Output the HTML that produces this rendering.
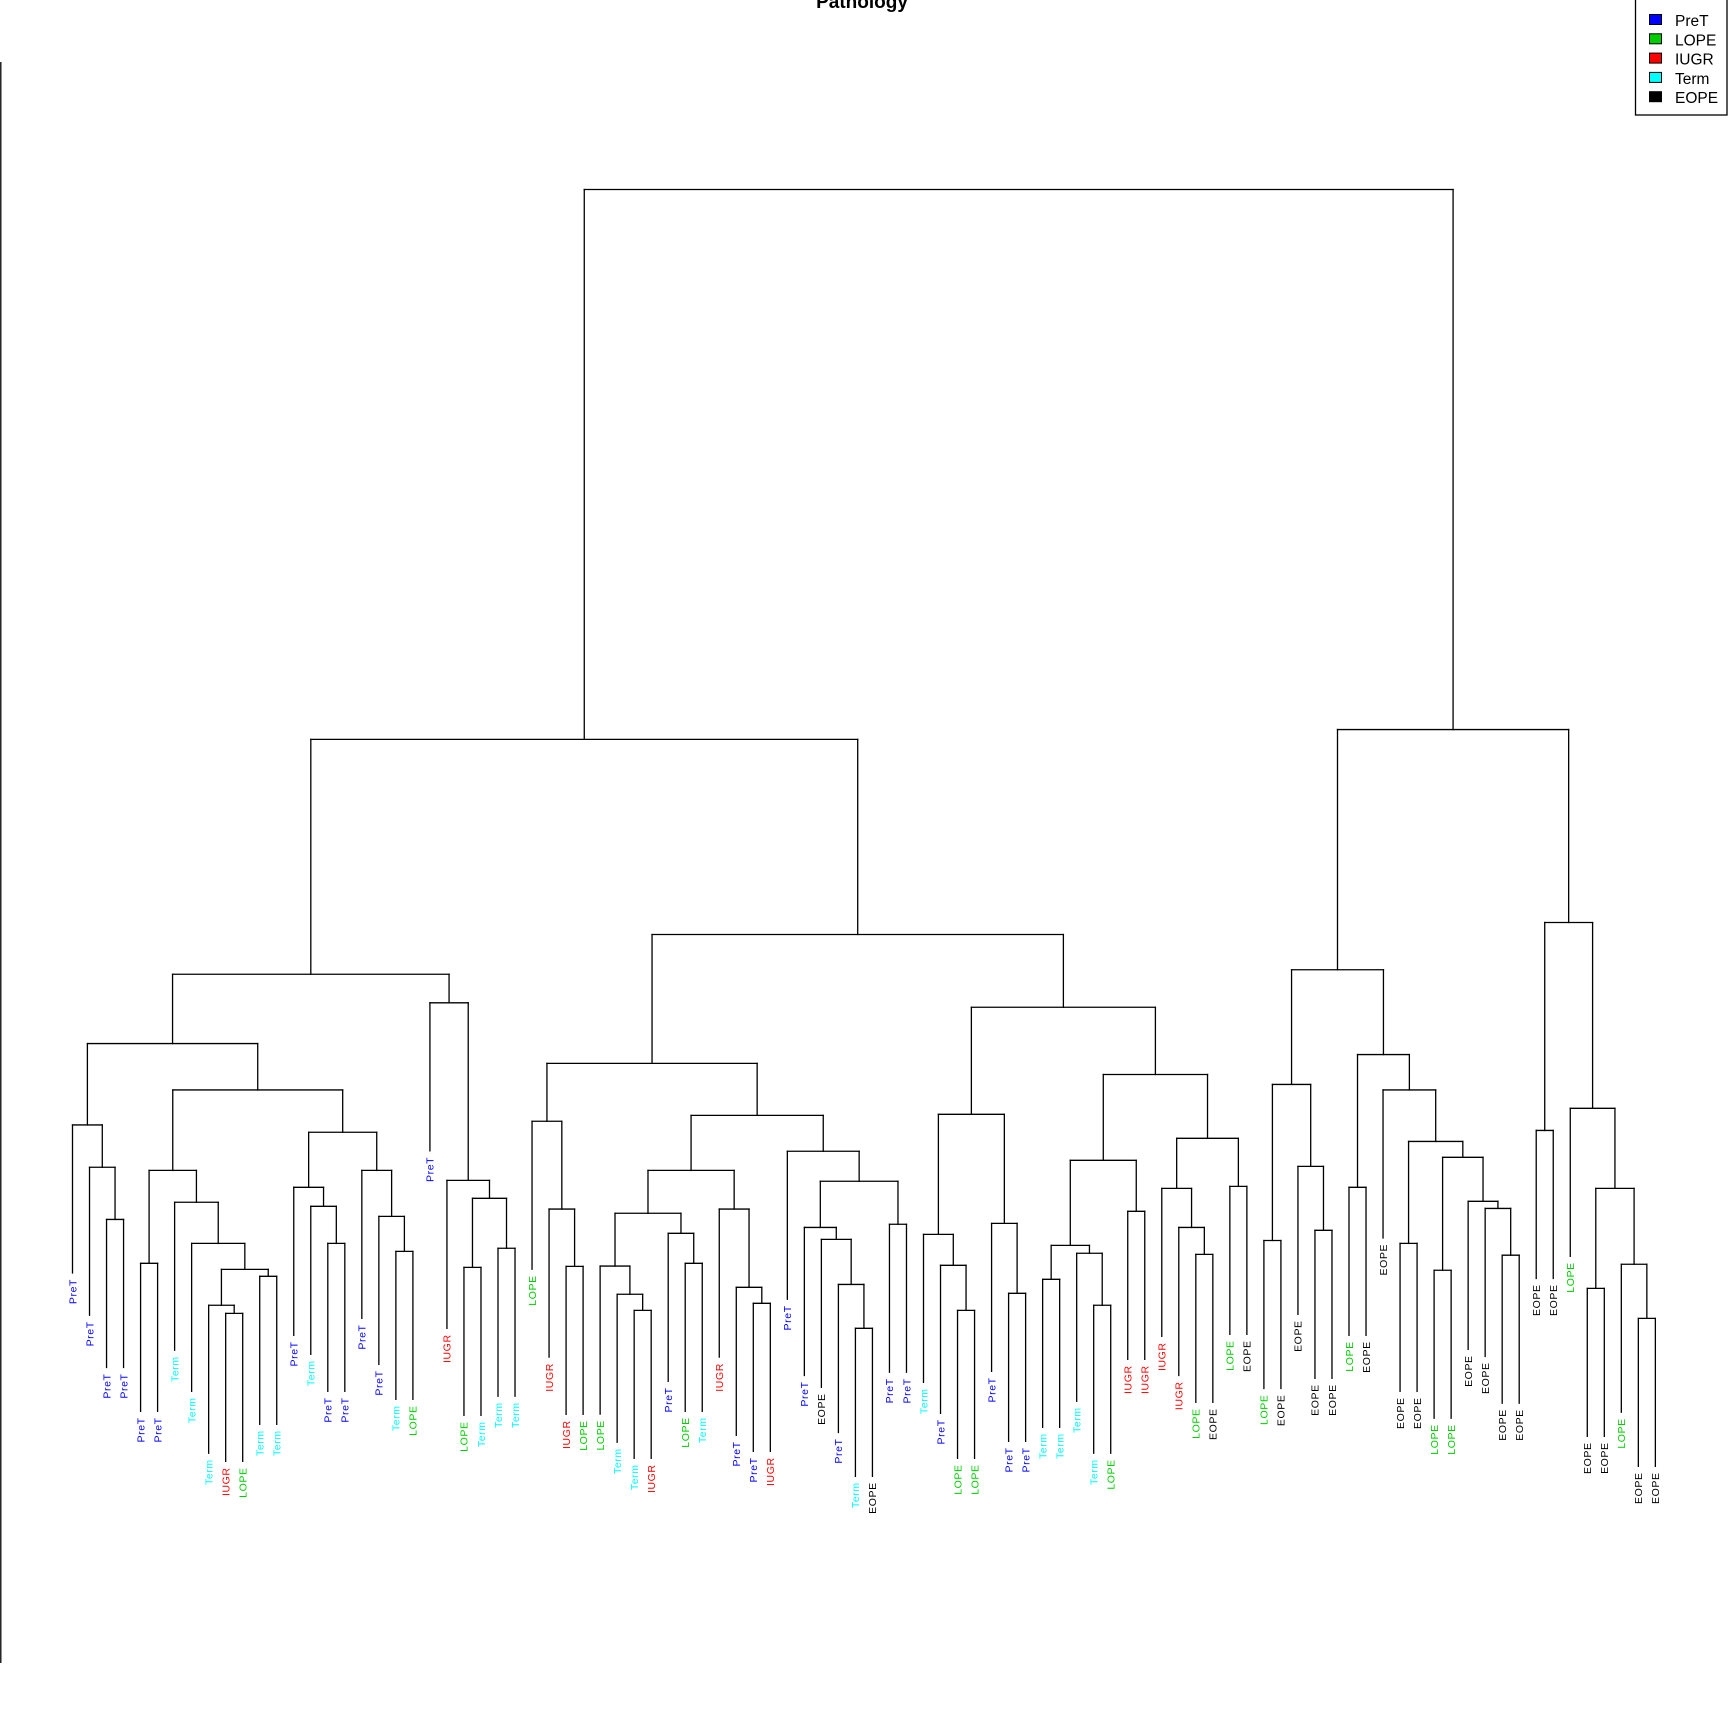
<!DOCTYPE html>
<html><head><meta charset="utf-8"><style>
html,body{margin:0;padding:0;background:#fff;}
svg{display:block;}
text{font-family:"Liberation Sans",sans-serif;}
</style></head><body>
<svg id="chart" width="1728" height="1728" viewBox="0 0 1728 1728" xmlns="http://www.w3.org/2000/svg">
<rect x="0" y="0" width="1728" height="1728" fill="#fff"/>
<text x="862" y="8" text-anchor="middle" font-size="19" font-weight="bold">Pathology</text>
<line x1="0.8" y1="62" x2="0.8" y2="1663" stroke="#000" stroke-width="1.3"/>
<g id="tree"></g>
<g>
<rect x="1635.5" y="-1" width="91.5" height="116" fill="#fff" stroke="#000" stroke-width="1.3"/>
<g id="legendItems"></g>
</g>
</svg>
<script>
const leafLabels = ["PreT","PreT","PreT","PreT","PreT","PreT","Term","Term","Term","IUGR","LOPE","Term","Term","PreT","Term","PreT","PreT","PreT","PreT","Term","LOPE","PreT","IUGR","LOPE","Term","Term","Term","LOPE","IUGR",
"IUGR","LOPE","LOPE","Term","Term","IUGR","PreT","LOPE","Term","IUGR","PreT","PreT","IUGR","PreT","PreT","EOPE","PreT","Term","EOPE","PreT","PreT","Term","PreT","LOPE","LOPE","PreT","PreT","PreT","Term","Term","Term",
"Term","LOPE","IUGR","IUGR","IUGR","IUGR","LOPE","EOPE","LOPE","EOPE","LOPE","EOPE","EOPE","EOPE","EOPE","LOPE","EOPE","EOPE","EOPE","EOPE","LOPE","LOPE","EOPE","EOPE","EOPE","EOPE","EOPE","EOPE","LOPE","EOPE","EOPE","LOPE","EOPE","EOPE"];
// merges: negative = leaf (1-based), positive = earlier merge (1-based)
const mergeLeft  = [-3,-2,-1,-5,-10,-9,-12,6,-8,-7,4,-16,-15,-14,-20,-19,-18,14,11,3,-24,-26,21,-23,-22,20,-30,-29,-28,-34,-33,-32,-37,-36,32,-41,-40,-39,35,-47,-46,-45,-44,-49,43,-43,39,29,-53,-52,-51,-56,-55,51,-58,-61,-60,55,-63,58,-67,-66,-65,-69,63,60,54,48,26,-71,-74,-73,70,-76,-79,-81,-85,-84,-83,76,75,-78,74,73,-87,-90,-93,-92,86,-89,85,84,69];
const mergeRight = [-4,1,2,-6,-11,5,-13,7,8,9,10,-17,12,13,-21,15,16,17,18,19,-25,-27,22,23,24,25,-31,27,28,-35,30,31,-38,33,34,-42,36,37,38,-48,40,41,42,-50,44,45,46,47,-54,49,50,-57,52,53,-59,-62,56,57,-64,59,-68,61,62,-70,64,65,66,67,68,-72,-75,71,72,-77,-80,-82,-86,77,78,79,80,81,82,83,-88,-91,-94,87,88,89,90,91,92];
const mergeHeights = [21.41,25.39,28.62,18.06,14.24,14.86,17.07,17.60,19.58,22.72,25.15,19.58,22.41,23.86,18.97,21.64,25.15,28.06,31.29,34.83,17.75,19.21,23.02,24.39,37.94,40.12,17.83,22.20,28.90,14.47,15.70,17.85,18.06,20.35,21.88,15.01,16.23,22.20,25.15,13.10,16.45,19.89,20.80,21.04,24.32,26.61,29.35,33.32,14.47,17.91,20.27,15.77,21.11,29.43,16.84,14.86,18.83,19.43,22.03,25.92,18.74,20.80,23.78,23.93,27.60,32.47,37.60,43.15,58.04,19.80,20.58,25.46,31.71,23.86,19.58,17.53,18.68,22.25,22.79,26.15,27.36,31.29,33.99,40.46,28.20,16.15,13.86,17.99,23.78,29.89,44.07,58.79,100.0];
const legendLabels = ["PreT","LOPE","IUGR","Term","EOPE"];
const legendColors = ["#0000FF","#00CD00","#FF0000","#00FFFF","#000000"];

const NS = "http://www.w3.org/2000/svg";
const colorOf = {PreT:"#0000FF",LOPE:"#00CD00",IUGR:"#FF0000",Term:"#00FFFF",EOPE:"#000000"};
const X0 = 72.5, DX = 17.02, Y0 = 1500, KY = 13.105, HANG = 148;
function xLeaf(i){ return X0 + i*DX; }
function yH(h){ return Y0 - h*KY; }
const tree = document.getElementById("tree");
function line(x1,y1,x2,y2,name){
  const l = document.createElementNS(NS,"line");
  l.setAttribute("x1",x1); l.setAttribute("y1",y1); l.setAttribute("x2",x2); l.setAttribute("y2",y2);
  l.setAttribute("stroke","#000"); l.setAttribute("stroke-width","1.3"); l.setAttribute("stroke-linecap","square");
  
  
  tree.appendChild(l);
}
const nodeX = [], nodeY = [];
function childPos(c){
  if (c < 0) return {x: xLeaf(-c-1), leaf: -c-1};
  return {x: nodeX[c-1], y: nodeY[c-1], leaf: null};
}
for (let m = 0; m < mergeHeights.length; m++){
  const y = yH(mergeHeights[m]);
  const a = childPos(mergeLeft[m]), b = childPos(mergeRight[m]);
  line(a.x, y, b.x, y, "merge-bar");
  [a,b].forEach(c => {
    if (c.leaf !== null){
      const yb = y + HANG;
      line(c.x, y, c.x, yb, "leaf-branch");
      const t = document.createElementNS(NS,"text");
      const lab = leafLabels[c.leaf];
      t.textContent = lab;
      t.setAttribute("x", c.x); t.setAttribute("y", yb + 6);
      t.setAttribute("transform", "rotate(-90 " + c.x + " " + (yb+6) + ")");
      t.setAttribute("text-anchor","end"); t.setAttribute("dy","0.36em");
      t.setAttribute("font-size","10.5"); t.setAttribute("letter-spacing","0.6");
      t.setAttribute("fill", colorOf[lab]);
      
      
      tree.appendChild(t);
    } else {
      line(c.x, y, c.x, c.y, "branch");
    }
  });
  nodeX[m] = (a.x + b.x)/2; nodeY[m] = y;
}
const lg = document.getElementById("legendItems");
for (let i = 0; i < legendLabels.length; i++){
  const yb = 26 + i*19.3;
  const r = document.createElementNS(NS,"rect");
  r.setAttribute("x",1649.5); r.setAttribute("y",yb-11.5); r.setAttribute("width",12); r.setAttribute("height",10);
  r.setAttribute("fill",legendColors[i]); r.setAttribute("stroke","#000"); r.setAttribute("stroke-width","1");
  
  
  lg.appendChild(r);
  const t = document.createElementNS(NS,"text");
  t.setAttribute("x",1675); t.setAttribute("y",yb); t.setAttribute("font-size","15.5");
  t.textContent = legendLabels[i];
  
  
  lg.appendChild(t);
}
</script>
</body></html>
